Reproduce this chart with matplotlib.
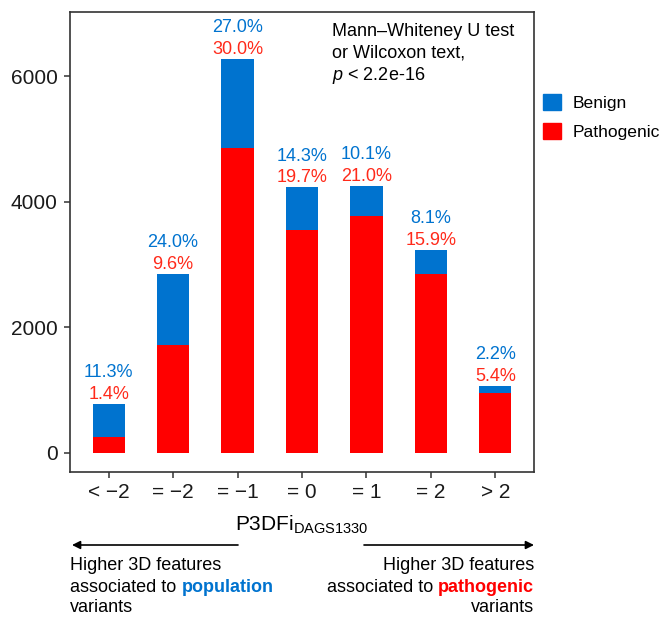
import matplotlib
matplotlib.use("Agg")
import matplotlib.pyplot as plt
from matplotlib.patches import Patch

categories = ["< \u22122", "= \u22122", "= \u22121", "= 0", "= 1", "= 2", "> 2"]
pathogenic = [240, 1715, 4860, 3550, 3770, 2850, 945]
benign = [535, 1130, 1410, 675, 475, 380, 115]
benign_pct = ["11.3%", "24.0%", "27.0%", "14.3%", "10.1%", "8.1%", "2.2%"]
pathogenic_pct = ["1.4%", "9.6%", "30.0%", "19.7%", "21.0%", "15.9%", "5.4%"]
y_ticks = [0, 2000, 4000, 6000]

BLUE = "#0073CF"
RED = "#FF0000"
TXT_RED = "#FF2A1A"

plt.rcParams["font.family"] = "Liberation Sans"
plt.rcParams["mathtext.fontset"] = "custom"
plt.rcParams["mathtext.rm"] = "Liberation Sans"
plt.rcParams["mathtext.it"] = "Liberation Sans:italic"

W, H = 661, 617
fig = plt.figure(figsize=(W / 100, H / 100), dpi=100)


def fx(px):
    return px / W


def fy(py):
    return 1 - py / H


ax = fig.add_axes([fx(70), fy(472), fx(534) - fx(70), fy(12) - fy(472)])
x = list(range(1, len(categories) + 1))
ax.bar(x, pathogenic, width=0.5, color=RED)
ax.bar(x, benign, width=0.5, bottom=pathogenic, color=BLUE)

totals = [p + b for p, b in zip(pathogenic, benign)]
for xi, t, bp, pp in zip(x, totals, benign_pct, pathogenic_pct):
    ax.annotate(pp, (xi, t), xytext=(0, 6.8), textcoords="offset points",
                ha="center", va="center", color=TXT_RED, fontsize=13)
    ax.annotate(bp, (xi, t), xytext=(0, 22.6), textcoords="offset points",
                ha="center", va="center", color=BLUE, fontsize=13)

ax.set_xlim(0.4, 7.6)
ax.set_ylim(-310, 7020)
ax.set_xticks(x)
ax.set_xticklabels(categories)
ax.set_yticks(y_ticks)
for s in ax.spines.values():
    s.set_color("#333333")
    s.set_linewidth(1.2)
ax.tick_params(length=4, width=1.1, color="#333333", labelsize=15,
               labelcolor="#1a1a1a")
ax.tick_params(axis="y", pad=5)
ax.tick_params(axis="x", pad=4)
ax.set_xlabel("P3DFi$_{\\mathrm{DAGS1330}}$", fontsize=15, labelpad=8)

# test annotation
fig.text(fx(332), fy(31.7), "Mann\u2013Whiteney U test", va="center", fontsize=13)
fig.text(fx(332), fy(53.5), "or Wilcoxon text,", va="center", fontsize=13)
fig.text(fx(332), fy(75.5), "$p$ < 2.2e-16", va="center", fontsize=13)

handles = [Patch(color=BLUE, label="Benign"), Patch(color=RED, label="Pathogenic")]
fig.legend(handles=handles, loc="upper left", bbox_to_anchor=(fx(543), fy(94)),
           frameon=False, fontsize=12.6, handlelength=1.03, handleheight=1.03,
           handletextpad=0.65, labelspacing=0.67, borderpad=0, borderaxespad=0)

# direction arrows
arrow = dict(arrowstyle="-|>", color="black", lw=1.2, mutation_scale=12,
             shrinkA=0, shrinkB=0)
ax.annotate("", xy=(fx(72), fy(545)), xytext=(fx(238), fy(545)),
            xycoords="figure fraction", textcoords="figure fraction",
            arrowprops=arrow, annotation_clip=False)
ax.annotate("", xy=(fx(534), fy(545)), xytext=(fx(364), fy(545)),
            xycoords="figure fraction", textcoords="figure fraction",
            arrowprops=arrow, annotation_clip=False)

# left caption
fig.text(fx(70), fy(565), "Higher 3D features", va="center", fontsize=13)
t_left = fig.text(fx(70), fy(587), "associated to", va="center", fontsize=13)
ax.annotate("population", xy=(1, 0), xycoords=t_left, xytext=(3.7, 0),
            textcoords="offset points", ha="left", va="bottom",
            fontsize=13, fontweight="bold", color=BLUE)
fig.text(fx(70), fy(608), "variants", va="center", fontsize=13)

# right caption
fig.text(fx(534), fy(565), "Higher 3D features", ha="right", va="center", fontsize=13)
t_right = fig.text(fx(534), fy(587), "pathogenic", ha="right", va="center",
                   fontsize=13, fontweight="bold", color=RED)
ax.annotate("associated to", xy=(0, 0), xycoords=t_right, xytext=(-3.7, 0),
            textcoords="offset points", ha="right", va="bottom", fontsize=13)
fig.text(fx(534), fy(608), "variants", ha="right", va="center", fontsize=13)

fig.savefig("out.png", dpi=100)
